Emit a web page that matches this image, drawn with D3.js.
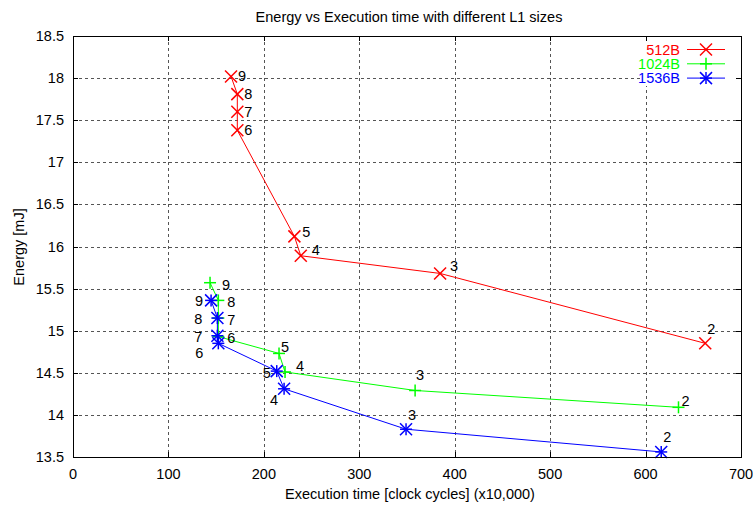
<!DOCTYPE html>
<html>
<head>
<meta charset="utf-8">
<script src="https://cdn.jsdelivr.net/npm/d3@7/dist/d3.min.js"></script>
<style>
  body { margin: 0; background: #fff; }
  svg { display: block; font-family: "Liberation Sans", Arial, sans-serif; }
</style>
</head>
<body>
<svg id="chart" width="753" height="507"></svg>
<script>
'use strict';

// Chart data
var pointLabels = ['2', '3', '4', '5', '6', '7', '8', '9'];
var seriesNames = ['512B', '1024B', '1536B'];
var seriesColors = ['#ff0000', '#00ff00', '#0000ff'];
var seriesMarkers = ['x', 'plus', 'star'];
var time512 = [662.5, 384.7, 238.7, 232, 172.2, 172.2, 172.2, 165.6];
var energy512 = [14.85, 15.68, 15.89, 16.12, 17.38, 17.60, 17.81, 18.02];
var time1024 = [634.5, 358.5, 222.2, 215.9, 152.3, 152.3, 152.3, 143.6];
var energy1024 = [14.09, 14.29, 14.51, 14.73, 14.93, 15.15, 15.36, 15.57];
var time1536 = [616.4, 349, 221.2, 213.5, 152.3, 151.3, 151.3, 144.7];
var energy1536 = [13.56, 13.83, 14.31, 14.52, 14.85, 14.94, 15.15, 15.36];
var xTicks = [0, 100, 200, 300, 400, 500, 600, 700];
var yTicks = [13.5, 14, 14.5, 15, 15.5, 16, 16.5, 17, 17.5, 18, 18.5];

// Label offsets (pixels) per series, same order as pointLabels
var labelOffsets = [
  [[6, -14], [14, -7], [15, -6], [12, -4], [11, 0], [11, 0], [11, 0], [11, 0]],
  [[7, -6], [5, -15], [15, -6], [6, -6], [13, 1], [13, 2], [13, 2], [16, 2]],
  [[6, -15], [6, -14], [-10, 11], [-10, 2], [-19, 10], [-19, 1], [-19, 1], [-12, 1]]
];

(function() {
  var times = [time512, time1024, time1536];
  var energies = [energy512, energy1024, energy1536];
  var fontSize = '14.5px';

  var svg = d3.select('#chart');
  var pLeft = 73, pRight = 741, pTop = 36, pBottom = 457;

  var x = d3.scaleLinear().domain([0, 700]).range([pLeft, pRight]);
  var y = d3.scaleLinear().domain([13.5, 18.5]).range([pBottom, pTop]);

  // Grid
  var grid = svg.append('g')
    .attr('stroke', '#555')
    .attr('stroke-width', 1)
    .attr('stroke-dasharray', '3,3')
    .attr('shape-rendering', 'crispEdges');
  grid.selectAll('.gx').data(xTicks.slice(1, -1)).enter().append('line')
    .attr('x1', function(d) { return Math.round(x(d)) + 0.5; })
    .attr('x2', function(d) { return Math.round(x(d)) + 0.5; })
    .attr('y1', pTop).attr('y2', pBottom);
  grid.selectAll('.gy').data(yTicks.slice(1, -1)).enter().append('line')
    .attr('y1', function(d) { return Math.round(y(d)) + 0.5; })
    .attr('y2', function(d) { return Math.round(y(d)) + 0.5; })
    .attr('x1', pLeft).attr('x2', pRight);

  // Series lines, markers and labels
  function drawMarker(g, kind, cx, cy, color) {
    var s = 6;
    var segs = [];
    if (kind === 'x' || kind === 'star') {
      segs.push([cx - s, cy - s, cx + s, cy + s], [cx - s, cy + s, cx + s, cy - s]);
    }
    if (kind === 'plus' || kind === 'star') {
      segs.push([cx - s, cy, cx + s, cy], [cx, cy - s, cx, cy + s]);
    }
    segs.forEach(function(p) {
      g.append('line')
        .attr('x1', p[0]).attr('y1', p[1]).attr('x2', p[2]).attr('y2', p[3])
        .attr('stroke', color).attr('stroke-width', 1.5);
    });
  }

  seriesNames.forEach(function(name, si) {
    var rows = pointLabels.map(function(lbl, i) {
      return { label: lbl, t: times[si][i], e: energies[si][i], off: labelOffsets[si][i] };
    });
    var g = svg.append('g');
    g.append('path')
      .datum(rows)
      .attr('fill', 'none')
      .attr('stroke', seriesColors[si])
      .attr('stroke-width', 1)
      .attr('d', d3.line().x(function(d) { return x(d.t); }).y(function(d) { return y(d.e); }));
    rows.forEach(function(d) {
      drawMarker(g, seriesMarkers[si], x(d.t), y(d.e), seriesColors[si]);
    });
    g.selectAll('text').data(rows).enter().append('text')
      .attr('x', function(d) { return x(d.t) + d.off[0]; })
      .attr('y', function(d) { return y(d.e) + d.off[1]; })
      .attr('text-anchor', 'middle')
      .attr('dominant-baseline', 'central')
      .style('font-size', fontSize)
      .style('fill', '#000')
      .text(function(d) { return d.label; });
  });

  // Legend background
  svg.append('rect')
    .attr('x', 640).attr('y', pTop + 1)
    .attr('width', pRight - 641).attr('height', 49)
    .attr('fill', '#fff');

  // Frame and ticks
  var frame = svg.append('g').attr('stroke', '#000').attr('shape-rendering', 'crispEdges');
  frame.append('rect')
    .attr('x', pLeft + 0.5).attr('y', pTop + 0.5)
    .attr('width', pRight - pLeft).attr('height', pBottom - pTop)
    .attr('fill', 'none').attr('stroke-width', 1.5);
  xTicks.forEach(function(t) {
    var px = Math.round(x(t)) + 0.5;
    frame.append('line').attr('x1', px).attr('x2', px).attr('y1', pBottom).attr('y2', pBottom - 5);
    frame.append('line').attr('x1', px).attr('x2', px).attr('y1', pTop).attr('y2', pTop + 5);
  });
  yTicks.forEach(function(t) {
    var py = Math.round(y(t)) + 0.5;
    frame.append('line').attr('y1', py).attr('y2', py).attr('x1', pLeft).attr('x2', pLeft + 5);
    frame.append('line').attr('y1', py).attr('y2', py).attr('x1', pRight).attr('x2', pRight - 5);
  });

  // Tick labels
  svg.selectAll('.xl').data(xTicks).enter().append('text')
    .attr('x', function(d) { return x(d); })
    .attr('y', pBottom + 17)
    .attr('text-anchor', 'middle')
    .attr('dominant-baseline', 'central')
    .style('font-size', fontSize)
    .text(function(d) { return d; });
  svg.selectAll('.yl').data(yTicks).enter().append('text')
    .attr('x', pLeft - 9)
    .attr('y', function(d) { return y(d); })
    .attr('text-anchor', 'end')
    .attr('dominant-baseline', 'central')
    .style('font-size', fontSize)
    .text(function(d) { return d; });

  // Titles
  svg.append('text')
    .attr('x', 409).attr('y', 17)
    .attr('text-anchor', 'middle')
    .attr('dominant-baseline', 'central')
    .style('font-size', fontSize)
    .text('Energy vs Execution time with different L1 sizes');
  svg.append('text')
    .attr('x', 410).attr('y', 494)
    .attr('text-anchor', 'middle')
    .attr('dominant-baseline', 'central')
    .style('font-size', fontSize)
    .text('Execution time [clock cycles] (x10,000)');
  svg.append('text')
    .attr('transform', 'translate(19,247) rotate(-90)')
    .attr('text-anchor', 'middle')
    .attr('dominant-baseline', 'central')
    .style('font-size', fontSize)
    .text('Energy [mJ]');

  // Legend
  var legend = svg.append('g');
  seriesNames.forEach(function(name, si) {
    var ly = 49.5 + si * 14.3;
    legend.append('text')
      .attr('x', 680).attr('y', ly)
      .attr('text-anchor', 'end')
      .attr('dominant-baseline', 'central')
      .style('font-size', fontSize)
      .style('fill', seriesColors[si])
      .text(name);
    legend.append('line')
      .attr('x1', 687).attr('x2', 725).attr('y1', ly).attr('y2', ly)
      .attr('stroke', seriesColors[si]).attr('stroke-width', 1);
    drawMarker(legend, seriesMarkers[si], 706, ly, seriesColors[si]);
  });
})();
</script>
</body>
</html>
